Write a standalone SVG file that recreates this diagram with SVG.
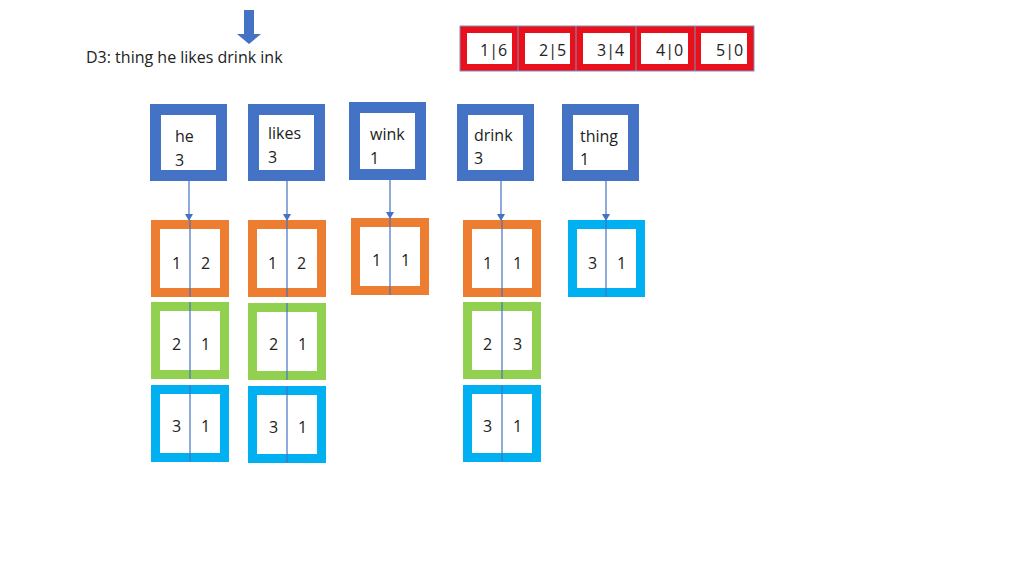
<svg xmlns="http://www.w3.org/2000/svg" width="1024" height="576" viewBox="0 0 1024 576">
<style>
text{font-family:"Open Sans","Liberation Sans",sans-serif;font-size:16px;fill:#222}
.n{fill:#fff;stroke:#4472C4;stroke-width:11}
.o{fill:#fff;stroke:#ED7D31;stroke-width:9}
.g{fill:#fff;stroke:#92D050;stroke-width:9}
.c{fill:#fff;stroke:#00B0F0;stroke-width:9}
.r{fill:#fff;stroke:#E8101A;stroke-width:7}
.l{stroke:#4472C4;stroke-width:1.2;fill:none}
</style>
<defs><marker id="a" markerWidth="8" markerHeight="8" refX="6" refY="4" orient="auto" markerUnits="userSpaceOnUse"><path d="M0,0L7,4L0,8z" fill="#4472C4"/></marker></defs>
<path d="M244,10h10v24h7l-12,10l-12,-10h7z" fill="#4472C4"/>
<text x="86" y="63" font-size="15">D3:  thing he likes drink ink</text>
<g id="header">
<rect x="460" y="26" width="294" height="45" fill="#E8101A" stroke="#8090C0" stroke-width="1"/>
<g fill="#fff"><rect x="467" y="33" width="45" height="31"/><rect x="525" y="33" width="45" height="31"/><rect x="583" y="33" width="47" height="31"/><rect x="641" y="33" width="47" height="31"/><rect x="701" y="33" width="46" height="31"/></g>
<g stroke="#8090C0" stroke-width="1"><line x1="518" y1="26" x2="518" y2="71"/><line x1="576" y1="26" x2="576" y2="71"/><line x1="636" y1="26" x2="636" y2="71"/><line x1="695" y1="26" x2="695" y2="71"/></g>
<text x="480" y="56">1|6</text><text x="539" y="56">2|5</text><text x="597" y="56">3|4</text><text x="656" y="56">4|0</text><text x="716" y="56">5|0</text>
</g>
<g id="connectors">
<line class="l" x1="189" y1="181" x2="189" y2="220" marker-end="url(#a)"/>
<line class="l" x1="287" y1="181" x2="287" y2="220" marker-end="url(#a)"/>
<line class="l" x1="390" y1="180" x2="390" y2="218" marker-end="url(#a)"/>
<line class="l" x1="501" y1="181" x2="501" y2="220" marker-end="url(#a)"/>
<line class="l" x1="606" y1="181" x2="606" y2="220" marker-end="url(#a)"/>
</g>
<g id="he"><rect class="n" x="155.5" y="109.5" width="66" height="66"/><text x="175" y="142">he</text><text x="175" y="166">3</text></g>
<g id="likes"><rect class="n" x="253.5" y="109.5" width="66" height="66"/><text x="268" y="139">likes</text><text x="268" y="163">3</text></g>
<g id="wink"><rect class="n" x="354.5" y="107.5" width="66" height="67"/><text x="370" y="140">wink</text><text x="370" y="164">1</text></g>
<g id="drink"><rect class="n" x="462.5" y="109.5" width="66" height="66"/><text x="474" y="141">drink</text><text x="474" y="164">3</text></g>
<g id="thing"><rect class="n" x="567.5" y="109.5" width="66" height="66"/><text x="580" y="142">thing</text><text x="580" y="165">1</text></g>
<g id="he-postings">
<rect class="o" x="155.5" y="224.5" width="69" height="68"/><line class="l" x1="190" y1="220" x2="190" y2="297"/><text x="172" y="269">1</text><text x="201" y="269">2</text>
<rect class="g" x="155.5" y="306.5" width="69" height="68"/><line class="l" x1="190" y1="302" x2="190" y2="379"/><text x="172" y="350">2</text><text x="201" y="350">1</text>
<rect class="c" x="155.5" y="389.5" width="69" height="68"/><line class="l" x1="190" y1="385" x2="190" y2="462"/><text x="172" y="432">3</text><text x="201" y="432">1</text>
</g>
<g id="likes-postings">
<rect class="o" x="252.5" y="224.5" width="69" height="68"/><line class="l" x1="287" y1="220" x2="287" y2="297"/><text x="268" y="269">1</text><text x="297" y="269">2</text>
<rect class="g" x="252.5" y="307.5" width="69" height="68"/><line class="l" x1="287" y1="303" x2="287" y2="380"/><text x="269" y="350">2</text><text x="298" y="350">1</text>
<rect class="c" x="252.5" y="390.5" width="69" height="68"/><line class="l" x1="287" y1="386" x2="287" y2="463"/><text x="269" y="433">3</text><text x="298" y="433">1</text>
</g>
<g id="wink-postings">
<rect class="o" x="355.5" y="222.5" width="69" height="68"/><line class="l" x1="390" y1="218" x2="390" y2="295"/><text x="372" y="266">1</text><text x="401" y="266">1</text>
</g>
<g id="drink-postings">
<rect class="o" x="467.5" y="224.5" width="69" height="68"/><line class="l" x1="502" y1="220" x2="502" y2="297"/><text x="483" y="269">1</text><text x="513" y="269">1</text>
<rect class="g" x="467.5" y="306.5" width="69" height="68"/><line class="l" x1="502" y1="302" x2="502" y2="379"/><text x="483" y="350">2</text><text x="513" y="350">3</text>
<rect class="c" x="467.5" y="389.5" width="69" height="68"/><line class="l" x1="502" y1="385" x2="502" y2="462"/><text x="483" y="432">3</text><text x="513" y="432">1</text>
</g>
<g id="thing-postings">
<rect class="c" x="572.5" y="224.5" width="68" height="68"/><line class="l" x1="606" y1="220" x2="606" y2="297"/><text x="588" y="269">3</text><text x="617" y="269">1</text>
</g>
</svg>
